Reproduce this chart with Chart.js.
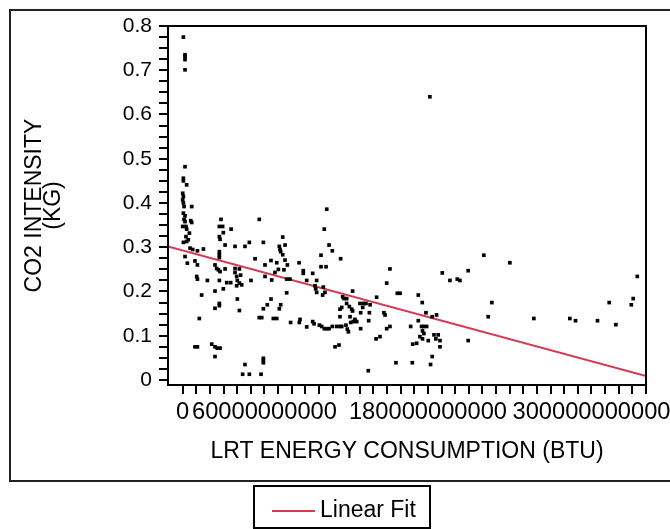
<!DOCTYPE html>
<html>
<head>
<meta charset="utf-8">
<script src="https://cdn.jsdelivr.net/npm/chart.js@4/dist/chart.umd.min.js"></script>
<style>
  body { margin: 0; background: #fff; }
  #wrap { width: 670px; height: 529px; }
</style>
</head>
<body>
<div id="wrap"><canvas id="lrtChart" width="670" height="529"></canvas></div>
<script>
// energy in billions of BTU, CO2 intensity in kg
const nearZeroEnergy = [0.5,1.7,1.7,1.7,1.7,1.7,0.5,
  0.5,2.9,0,0.5,0,0.5,1.0,6.6,0.5,1.7,1.0,1.7,5.9,6.6,0,2.4,2.9,4.9,2.4,4.1,0.5,2.9,5.4,7.3,10.8,15.2,1.7,3.4,9.0,10.8,10.3,10.8,18.1,13.9,12.2,9.0,10.8];
const nearZeroCo2 = [0.775,0.735,0.730,0.724,0.701,0.482,0.456,
  0.450,0.441,0.422,0.415,0.407,0.400,0.392,0.392,0.377,0.371,0.363,0.358,0.360,0.356,0.347,0.347,0.341,0.332,0.324,0.317,0.311,0.313,0.298,0.295,0.292,0.296,0.279,0.264,0.269,0.260,0.234,0.228,0.225,0.192,0.139,0.075,0.075];

const midEnergy = [28.1,26.9,29.3,29.8,35.5,26.9,27.4,31.1,38.4,45.7,48.9,56.2,26.9,26.9,26.9,23.7,24.9,26.2,31.1,27.4,38.4,41.6,38.4,39.6,42.5,40.1,41.6,39.6,43.3,32.3,35.2,50.1,26.9,23.7,29.8,40.1,26.9,26.9,23.7,41.6,21.3,23.7,25.4,27.4,23.7,45.7,44.0,48.9,57.5,59.2,59.2,59.2,
  59.2,53.1,60.4,64.8,60.4,69.0,67.7,65.3,70.2,73.4,75.1,70.9,71.4,71.9,73.4,75.1,74.3,76.8,
  56.2,58.0,66.5,69.0,64.8,62.1,59.2,70.9,71.9,
  76.3,78.7,76.3,85.4,88.5,88.5,91.0,95.4,98.3,
  79.2,85.6,86.1,91.0,95.4,96.4,
  97.1,97.6,103.2,98.3,102.7,104.4,
  101.5,101.5,105.2,105.7,103.9,107.4,109.8,115.9,
  100.3,102.0,103.9,105.7,107.4,109.8,113.0,115.4,116.7,
  115.4,116.7,115.4,117.4,118.4,120.3,120.3,122.3,124.7,124.0,124.7,122.8,
  111.8,114.7,
  119.8,120.8,121.6,123.3,125.2,126.4,127.7,130.6,130.6,130.1,132.6,132.1,134.5,137.5,137.0,136.5,142.3,
  136.2,
  141.9,144.8,147.7,148.5,149.7,152.1,149.7,152.1,157.5,159.5,156.5,167.3,168.5,172.9,172.9,171.7,168.8,174.1];
const midCo2 = [0.363,0.347,0.347,0.333,0.341,0.324,0.318,0.305,0.302,0.302,0.311,0.363,0.290,0.283,0.277,0.260,0.252,0.249,0.251,0.245,0.252,0.251,0.243,0.234,0.237,0.225,0.219,0.213,0.215,0.220,0.220,0.225,0.225,0.201,0.206,0.183,0.173,0.168,0.162,0.157,0.081,0.075,0.072,0.072,0.053,0.035,0.013,0.013,0.013,0.049,0.044,0.039,
  0.311,0.274,0.260,0.270,0.234,0.265,0.243,0.226,0.250,0.323,0.305,0.302,0.295,0.290,0.283,0.271,0.249,0.260,
  0.141,0.141,0.139,0.139,0.183,0.170,0.161,0.161,0.170,
  0.228,0.228,0.197,0.265,0.247,0.241,0.225,0.241,0.225,
  0.130,0.130,0.137,0.120,0.132,0.127,
  0.213,0.206,0.210,0.198,0.192,0.198,
  0.282,0.256,0.256,0.386,0.341,0.305,0.292,0.274,
  0.124,0.121,0.116,0.116,0.116,0.121,0.121,0.121,0.121,
  0.143,0.164,0.160,0.188,0.184,0.184,0.173,0.166,0.201,0.160,0.156,0.143,
  0.075,0.079,
  0.124,0.115,0.109,0.130,0.132,0.137,0.132,0.152,0.116,0.173,0.173,0.164,0.173,0.170,0.152,0.134,0.187,
  0.021,
  0.093,0.098,0.152,0.147,0.116,0.121,0.219,0.251,0.196,0.196,0.039,0.121,0.039,0.192,0.134,0.083,0.081,0.098];

const farEnergy = [175.3,175.8,176.0,176.0,177.0,177.0,178.5,179.0,180.2,181.9,183.1,183.1,184.4,185.8,186.3,187.5,188.8,188.8,190.5,196.1,201.5,203.4,209.5,209.5,221.0,224.2,226.9,240.1,257.7,284.1,288.3,304.4,313.0,317.9,329.2,330.6,333.6,181.4];
const farCo2 = [0.121,0.175,0.111,0.093,0.121,0.105,0.152,0.121,0.089,0.035,0.143,0.053,0.102,0.093,0.147,0.102,0.089,0.075,0.242,0.225,0.228,0.225,0.247,0.089,0.282,0.143,0.175,0.265,0.139,0.139,0.134,0.134,0.175,0.125,0.170,0.184,0.234,0.640];

// linear fit end points (BTU, kg)
const fitEnergy = [-1.079e10, 3.4e11];
const fitCo2 = [0.3015, 0.009];

const xTickLabels = [0, 60000000000, 180000000000, 300000000000];
const yTickLabels = [0, 0.1, 0.2, 0.3, 0.4, 0.5, 0.6, 0.7, 0.8];

const FONT = "'Liberation Sans', Arial, Helvetica, sans-serif";

const energyAll = nearZeroEnergy.concat(midEnergy, farEnergy);
const co2All = nearZeroCo2.concat(midCo2, farCo2);
const scatterPts = energyAll.map((e, i) => ({ x: e * 1e9, y: co2All[i] }));
const fitPts = fitEnergy.map((e, i) => ({ x: e, y: fitCo2[i] }));

// minor tick marks: every 1e10 on x, every 0.025 on y
function xMarks(scale) {
  const t = [];
  for (let k = 0; k <= 34; k++) t.push({ value: k * 1e10 });
  scale.ticks = t;
}
function yMarks(scale) {
  const t = [];
  for (let k = 0; k <= 32; k++) t.push({ value: Math.round(k * 25) / 1000 });
  scale.ticks = t;
}

const framePlugin = {
  id: 'frames',
  afterDraw(chart) {
    const ctx = chart.ctx;
    const a = chart.chartArea;
    ctx.save();
    // plot box
    ctx.strokeStyle = '#000';
    ctx.lineWidth = 2;
    ctx.strokeRect(a.left, a.top, a.right - a.left, a.bottom - a.top);
    // outer frame
    ctx.strokeStyle = '#222';
    ctx.strokeRect(10, 10, 700, 471);
    // legend
    const fit = chart.data.datasets[1];
    ctx.strokeStyle = '#000';
    ctx.strokeRect(254, 486, 176, 42);
    ctx.strokeStyle = fit.borderColor;
    ctx.lineWidth = 2;
    ctx.beginPath();
    ctx.moveTo(272, 511);
    ctx.lineTo(315, 511);
    ctx.stroke();
    ctx.fillStyle = '#000';
    ctx.font = '23px ' + FONT;
    ctx.textBaseline = 'middle';
    ctx.textAlign = 'left';
    ctx.fillText(fit.label, 320, 511);
    ctx.restore();
  }
};

new Chart(document.getElementById('lrtChart'), {
  type: 'scatter',
  data: {
    datasets: [{
      label: 'CO2 INTENSITY',
      data: scatterPts,
      pointStyle: 'rect',
      pointRadius: 2.6,
      pointBorderWidth: 0,
      pointBackgroundColor: '#000'
    }, {
      type: 'line',
      label: 'Linear Fit',
      data: fitPts,
      borderColor: '#d63a52',
      borderWidth: 2,
      pointRadius: 0,
      fill: false
    }]
  },
  options: {
    responsive: false,
    animation: false,
    events: [],
    layout: { padding: { left: 10, top: 26, right: 24, bottom: 64 } },
    plugins: { legend: { display: false }, tooltip: { enabled: false } },
    scales: {
      x: {
        type: 'linear',
        min: -1.079e10,
        max: 3.4e11,
        afterBuildTicks: xMarks,
        afterFit: s => { s.height = 80; },
        border: { display: false },
        grid: { drawOnChartArea: false, drawTicks: true, tickLength: 9, color: '#000', lineWidth: 2 },
        ticks: {
          autoSkip: false,
          maxRotation: 0,
          minRotation: 0,
          padding: 4,
          color: '#000',
          font: { family: FONT, size: 23.7 },
          callback: v => xTickLabels.some(t => Math.abs(t - v) < 1) ? String(v) : ''
        },
        title: {
          display: true,
          text: 'LRT ENERGY CONSUMPTION (BTU)',
          color: '#000',
          padding: 0,
          font: { family: FONT, size: 23 }
        }
      },
      y: {
        min: -0.0113,
        max: 0.8,
        afterBuildTicks: yMarks,
        afterFit: s => { s.width = 158; },
        border: { display: false },
        grid: { drawOnChartArea: false, drawTicks: true, tickLength: 9, color: '#000', lineWidth: 2 },
        ticks: {
          autoSkip: false,
          padding: 7,
          color: '#000',
          font: { family: FONT, size: 21 },
          callback: v => {
            const t = yTickLabels.find(l => Math.abs(l - v) < 1e-6);
            return t === undefined ? '' : String(t);
          }
        },
        title: {
          display: true,
          text: ['CO2 INTENSITY', '(KG)'],
          color: '#000',
          padding: { top: 15, bottom: 0 },
          font: { family: FONT, size: 23, lineHeight: '19px' }
        }
      }
    }
  },
  plugins: [framePlugin]
});
</script>
</body>
</html>
